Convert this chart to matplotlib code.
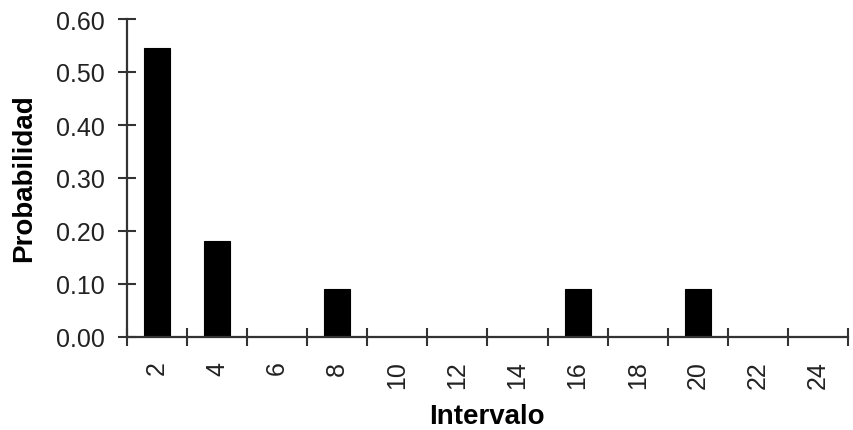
import numpy as np
import matplotlib
matplotlib.use('Agg')
import matplotlib.pyplot as plt

intervals = ['2', '4', '6', '8', '10', '12', '14', '16', '18', '20', '22', '24']
probs = [0.5455, 0.1818, 0.0, 0.0909, 0.0, 0.0, 0.0, 0.0909, 0.0, 0.0909, 0.0, 0.0]
y_ticks = [0.0, 0.1, 0.2, 0.3, 0.4, 0.5, 0.6]

plt.rcParams['font.family'] = ['Liberation Sans', 'DejaVu Sans']

W, H = 854, 431
fig = plt.figure(figsize=(W / 100, H / 100), dpi=100)
ax = fig.add_axes([127 / W, 93 / H, (848 - 127) / W, (338 - 20) / H])

pos = np.arange(len(intervals))
ax.bar(pos, probs, width=0.43, color='black', edgecolor='black', linewidth=0.8)

ax.set_xlim(-0.5, len(intervals) - 0.5)
ax.set_ylim(0, 0.6)

axis_col = '#333333'
text_col = '#222222'
for s in ['top', 'right']:
    ax.spines[s].set_visible(False)
for s in ['left', 'bottom']:
    ax.spines[s].set_color(axis_col)
    ax.spines[s].set_linewidth(1.6)

# y axis
ax.set_yticks(y_ticks)
ax.set_yticklabels([f'{v:.2f}' for v in y_ticks])
ax.tick_params(axis='y', direction='inout', length=13.5, width=1.5, color=axis_col,
               labelsize=18, labelcolor=text_col, pad=9)

# x axis: labels at category centres, tick marks at boundaries
ax.set_xticks(pos)
ax.set_xticklabels(intervals, rotation=90)
ax.tick_params(axis='x', which='major', length=0, labelsize=18,
               labelcolor=text_col, pad=17)
ax.set_xticks(np.arange(len(intervals) + 1) - 0.5, minor=True)
ax.tick_params(axis='x', which='minor', direction='inout', length=13.5, width=1.5,
               color=axis_col)

fig.text(24 / W, 1 - 178 / H, 'Probabilidad', rotation=90, ha='center', va='center',
         fontsize=20, fontweight='bold', color='black')
fig.text(487 / W, 1 - 417 / H, 'Intervalo', ha='center', va='center',
         fontsize=20, fontweight='bold', color='black')

fig.savefig('out.png', dpi=100)
